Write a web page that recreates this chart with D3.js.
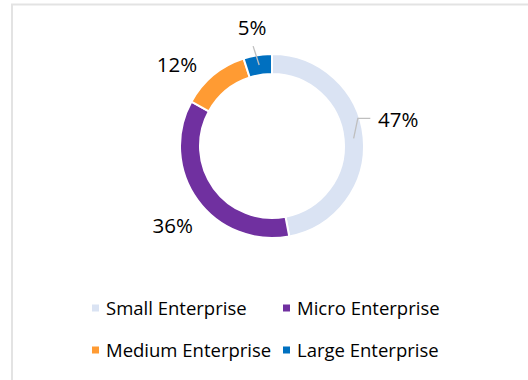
<!DOCTYPE html>
<html>
<head>
<meta charset="utf-8">
<script src="https://cdn.jsdelivr.net/npm/d3@7"></script>
<style>
  html, body { margin: 0; padding: 0; background: #fff; }
  svg { display: block; font-family: "Open Sans", sans-serif; }
</style>
</head>
<body>
<div id="chart"></div>
<script>
const categories = ["Small Enterprise", "Micro Enterprise", "Medium Enterprise", "Large Enterprise"];
const shares = [47, 36, 12, 5];
const colors = ["#DAE3F3", "#7030A0", "#FF9B33", "#0070C0"];
const labelsWithLeader = ["Small Enterprise", "Large Enterprise"];

const drawChart = (element, dimensions) => {
  const svgWidth = dimensions.width;
  const svgHeight = dimensions.height;
  const center = { x: 272, y: 146 };
  const outerR = 92;
  const innerR = 72;
  const labelR = 126;

  const data = categories.map((c, i) => ({ key: c, value: shares[i], color: colors[i] }));
  const color = d3.scaleOrdinal().domain(categories).range(colors);

  d3.select(element).selectAll("svg").remove();
  const svg = d3
    .select(element)
    .append("svg")
    .attr("width", svgWidth)
    .attr("height", svgHeight);

  // chart area frame
  svg.append("rect")
    .attr("x", 12)
    .attr("y", 4.5)
    .attr("width", svgWidth + 20)
    .attr("height", svgHeight + 20)
    .attr("fill", "#fff")
    .attr("stroke", "#e3e3e3")
    .attr("stroke-width", 2);

  const pie = d3.pie().sort(null).value((d) => d.value);
  const arcs = pie(data);
  const arc = d3.arc().innerRadius(innerR).outerRadius(outerR);
  const mid = d3.arc().innerRadius((innerR + outerR) / 2).outerRadius((innerR + outerR) / 2);

  const g = svg.append("g")
    .attr("id", "donut")
    .attr("transform", `translate(${center.x}, ${center.y})`);

  g.selectAll("path.slice")
    .data(arcs)
    .enter()
    .append("path")
    .attr("class", "slice")
    .attr("d", arc)
    .attr("fill", (d) => color(d.data.key))
    .attr("stroke", "#fff")
    .attr("stroke-width", 2);

  // label placement tweaks (excel "best fit" moves them around a bit)
  const nudge = {
    "Small Enterprise": { da: -0.11, dr: 3 },
    "Micro Enterprise": { da: -0.045, dr: 1 },
    "Medium Enterprise": { da: -0.173, dr: -1 },
    "Large Enterprise": { da: -0.01, dr: -6 }
  };
  const labelPos = (d) => {
    const n = nudge[d.data.key] || { da: 0, dr: 0 };
    const a = (d.startAngle + d.endAngle) / 2 + n.da;
    const r = labelR + n.dr;
    return [r * Math.sin(a), -r * Math.cos(a)];
  };

  // leader lines
  arcs.filter((d) => labelsWithLeader.includes(d.data.key)).forEach((d) => {
    const [cx, cy] = mid.centroid(d);
    const [lx, ly] = labelPos(d);
    let pts;
    if (Math.abs(lx) > Math.abs(ly)) {
      const ex = lx - Math.sign(lx) * 28;
      pts = [[cx, cy], [cx + (ex - cx) * 0.25, ly - 1.5], [ex, ly - 1.5]];
    } else {
      pts = [[cx, cy], [cx + (lx - cx) * 0.85, ly + 18.5]];
    }
    g.append("polyline")
      .attr("points", pts.map((p) => p.join(",")).join(" "))
      .attr("fill", "none")
      .attr("stroke", "#bfbfbf")
      .attr("stroke-width", 1.3);
  });

  g.selectAll("text.label")
    .data(arcs)
    .enter()
    .append("text")
    .attr("class", "label")
    .attr("x", (d) => labelPos(d)[0])
    .attr("y", (d) => labelPos(d)[1])
    .attr("dy", "0.36em")
    .attr("text-anchor", "middle")
    .attr("font-size", 20.5)
    .attr("fill", "#000")
    .text((d) => `${d.data.value}%`);

  // legend, 2 columns
  const legendCol = d3.scaleBand().domain([0, 1]).range([92, 474]);
  const legendRow = d3.scalePoint().domain([0, 1]).range([308, 350]);

  const legend = svg.append("g").attr("id", "legend");
  const items = legend.selectAll("g.item")
    .data(data)
    .enter()
    .append("g")
    .attr("class", "item")
    .attr("transform", (d, i) => `translate(${legendCol(i % 2)}, ${legendRow(Math.floor(i / 2))})`);

  items.append("rect")
    .attr("x", 0)
    .attr("y", -3.5)
    .attr("width", 7)
    .attr("height", 7)
    .attr("fill", (d) => color(d.key));

  items.append("text")
    .attr("x", 14)
    .attr("dy", "0.36em")
    .attr("font-size", 18.5)
    .attr("fill", "#000")
    .text((d) => d.key);
};

drawChart(document.getElementById("chart"), { width: 528, height: 380 });
</script>
</body>
</html>
